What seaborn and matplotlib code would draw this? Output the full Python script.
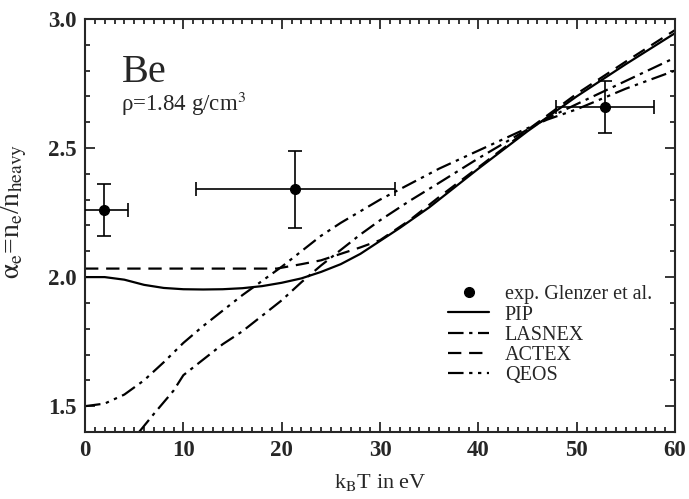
import numpy as np
import pandas as pd
import matplotlib
matplotlib.use("Agg")
import matplotlib.pyplot as plt
import seaborn as sns
from matplotlib.ticker import MultipleLocator
from matplotlib.lines import Line2D

# ---- data ----
pip_T = [0, 2, 4, 6, 8, 10, 12, 14, 16, 18, 20, 22, 24, 26, 28, 30, 32, 35, 40, 45, 50, 55, 60]
pip_y = [2.0, 2.0, 1.99, 1.97, 1.958, 1.953, 1.952, 1.953, 1.957, 1.965, 1.978, 1.995,
         2.02, 2.05, 2.09, 2.14, 2.19, 2.27, 2.42, 2.565, 2.70, 2.825, 2.945]

lasnex_T = [5.5, 7, 9, 10, 12, 14, 16, 18, 20, 22, 24, 26, 28, 30, 33, 36, 40, 44, 47, 50, 55, 60]
lasnex_y = [1.40, 1.47, 1.56, 1.62, 1.68, 1.74, 1.79, 1.85, 1.91, 1.98, 2.045, 2.105,
            2.165, 2.22, 2.295, 2.365, 2.46, 2.55, 2.615, 2.67, 2.76, 2.85]

actex_T = [0, 5, 10, 15, 19.5, 22, 24, 26, 28, 30, 33, 36, 40, 45, 50, 55, 60]
actex_y = [2.033, 2.033, 2.033, 2.033, 2.033, 2.05, 2.065, 2.09, 2.115, 2.143, 2.22,
           2.31, 2.425, 2.57, 2.71, 2.835, 2.957]

qeos_T = [0, 2, 4, 6, 8, 10, 12, 14, 16, 18, 20, 22, 24, 26, 28, 30, 33, 36, 40, 44, 47, 50, 55, 60]
qeos_y = [1.50, 1.51, 1.545, 1.60, 1.67, 1.745, 1.81, 1.87, 1.93, 1.985, 2.04, 2.10,
          2.16, 2.21, 2.255, 2.30, 2.36, 2.42, 2.49, 2.56, 2.61, 2.65, 2.73, 2.80]

exp_T = [1.9, 21.4, 52.9]
exp_y = [2.26, 2.34, 2.66]
exp_xerr = [2.5, 10.1, 5.0]
exp_yerr = [0.10, 0.15, 0.10]

# ---- style ----
sns.set_style("ticks")
plt.rcParams["font.family"] = ["Liberation Serif", "DejaVu Serif"]
plt.rcParams["mathtext.fontset"] = "stix"

fig = plt.figure(figsize=(6.89, 4.99), dpi=100)
ax = fig.add_axes([0.1234, 0.1343, 0.8563, 0.8277])

curves = [
    ("PIP", pip_T, pip_y, None),
    ("LASNEX", lasnex_T, lasnex_y, (7, 2.5, 1.5, 2.5)),
    ("ACTEX", actex_T, actex_y, (6, 3.5)),
    ("QEOS", qeos_T, qeos_y, (7, 2.5, 1.5, 2.5, 1.5, 2.5)),
]

ax.errorbar(exp_T, exp_y, xerr=exp_xerr, yerr=exp_yerr, fmt="o", color="black",
            ms=7, elinewidth=1.2, capsize=5, capthick=1.2, zorder=5)

handles = [Line2D([], [], marker="o", ls="none", color="black", ms=7)]
labels = ["exp. Glenzer et al."]
for name, T, y, dash in curves:
    df = pd.DataFrame({"T": T, "y": y})
    sns.lineplot(data=df, x="T", y="y", ax=ax, color="black", lw=1.6, sort=False)
    line = ax.get_lines()[-1]
    if dash is not None:
        line.set_dashes(dash)
    h = Line2D([], [], color="black", lw=1.6)
    if dash is not None:
        h.set_dashes(dash)
    handles.append(h)
    labels.append(name)

ax.set_xlim(0, 60)
ax.set_ylim(1.4, 3.0)
ax.xaxis.set_major_locator(MultipleLocator(10))
ax.xaxis.set_minor_locator(MultipleLocator(1))
ax.yaxis.set_major_locator(MultipleLocator(0.5))
ax.yaxis.set_minor_locator(MultipleLocator(0.1))
ax.yaxis.set_major_formatter(matplotlib.ticker.FormatStrFormatter("%.1f"))
ax.tick_params(which="both", direction="in", top=True, right=True, width=1.3)
ax.tick_params(which="major", length=7.5, labelsize=16.5, pad=6)
ax.tick_params(which="minor", length=3.8)
for lab in ax.get_xticklabels() + ax.get_yticklabels():
    lab.set_fontweight("bold")
for s in ax.spines.values():
    s.set_linewidth(1.5)

ax.set_xlabel(r"k$_\mathrm{B}$T in eV", fontsize=16, labelpad=8)
ax.set_ylabel(r"$\mathrm{\alpha_e}$=n$_\mathrm{e}$/n$_\mathrm{heavy}$", fontsize=20)
ax.yaxis.set_label_coords(-0.095, 0.535)

ax.text(3.7, 2.755, "Be", fontsize=29, va="baseline", ha="left")
ax.text(3.7, 2.645, r"ρ=1.84 g/cm$^3$", fontsize=16.5, va="baseline", ha="left")

ax.legend(handles, labels, loc="lower right", bbox_to_anchor=(0.985, 0.08),
          frameon=False, fontsize=14.5, handlelength=2.0, handletextpad=0.8,
          labelspacing=0.05, borderpad=0.2)

fig.savefig("out.png", dpi=100)
